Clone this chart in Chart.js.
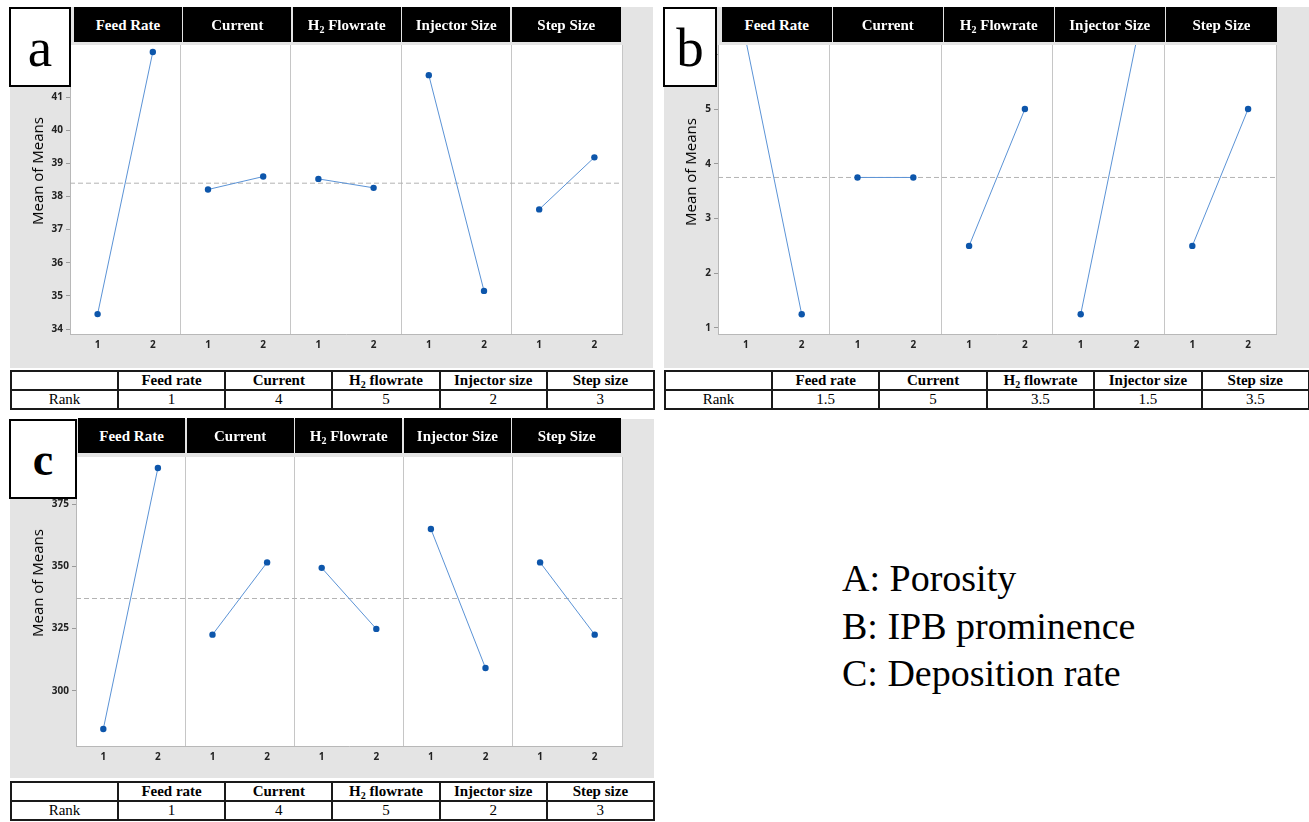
<!DOCTYPE html>
<html><head><meta charset="utf-8">
<script src="https://cdn.jsdelivr.net/npm/chart.js@4.4.1/dist/chart.umd.min.js"></script>
<style>
html,body{margin:0;padding:0;background:#fff;}
#root{position:relative;width:1309px;height:822px;overflow:hidden;background:#fff;}
.panel{position:absolute;background:#e4e4e4;}
.panel canvas{position:absolute;left:0;top:0;}
.hdr{position:absolute;background:#000;color:#fff;font:bold 15px 'Liberation Serif','Times New Roman',serif;display:flex;align-items:center;justify-content:center;white-space:nowrap;padding-top:2px;box-sizing:border-box;}
.hdr sub{font-size:10px;vertical-align:-3px;line-height:0;}
.ytitle{position:absolute;font:normal 15px 'Open Sans',sans-serif;color:#000;transform:translate(-50%,-50%) rotate(-90deg);white-space:nowrap;}
.lbl{position:absolute;box-sizing:border-box;border:2px solid #000;background:#fff;display:flex;align-items:center;justify-content:center;color:#000;}
table.rank{position:absolute;border-collapse:collapse;font:15px 'Liberation Serif','Times New Roman',serif;table-layout:fixed;color:#000;background:#fff;}
table.rank td{border:2px solid #1a1a1a;text-align:center;padding:0;height:17px;line-height:17px;overflow:hidden;white-space:nowrap;}
table.rank tr.head td{font-weight:bold;}
table.rank sub{font-size:10px;vertical-align:-3px;line-height:0;}
.legend{position:absolute;left:842px;top:555px;font:38px 'Liberation Serif','Times New Roman',serif;line-height:47.5px;color:#000;white-space:nowrap;}
</style>
</head>
<body>
<div id="root"></div>
<script>
// ---------------- data ----------------
const factors = ['Feed Rate', 'Current', 'H2 Flowrate', 'Injector Size', 'Step Size'];
const levelLabels = ['1', '2'];
const rankFactors = ['Feed rate', 'Current', 'H2 flowrate', 'Injector size', 'Step size'];

// (a) Porosity
const porosityLevel1 = [34.45, 38.21, 38.53, 41.66, 37.61];
const porosityLevel2 = [42.36, 38.60, 38.26, 35.15, 39.18];
const porosityMean = 38.40;
const porosityTicks = [34, 35, 36, 37, 38, 39, 40, 41, 42];
const porosityRank = ['1', '4', '5', '2', '3'];

// (b) IPB prominence
const ipbLevel1 = [6.25, 3.75, 2.50, 1.25, 2.50];
const ipbLevel2 = [1.25, 3.75, 5.00, 6.25, 5.00];
const ipbMean = 3.75;
const ipbTicks = [1, 2, 3, 4, 5, 6];
const ipbRank = ['1.5', '5', '3.5', '1.5', '3.5'];

// (c) Deposition rate
const depLevel1 = [284.7, 322.6, 349.4, 365.0, 351.6];
const depLevel2 = [389.5, 351.6, 324.9, 309.2, 322.6];
const depMean = 337.1;
const depTicks = [300, 325, 350, 375];
const depRank = ['1', '4', '5', '2', '3'];

const legendLines = ['A: Porosity', 'B: IPB prominence', 'C: Deposition rate'];

// ---------------- layout / style ----------------
const LINE = '#5b93d6', PT = '#0d56ab';
const panels = [
  {tag: 'a', l1: porosityLevel1, l2: porosityLevel2, mean: porosityMean, ticks: porosityTicks, rank: porosityRank,
   yMin: 33.85, yMax: 42.57,
   g: {L: 10, T: 7, R: 653, B: 368, cL: 70, cR: 622, cT: 45, cB: 334, hL: 74, hR: 621, hT: 7, hH: 35,
       tX: 36.5, tY: 171, box: [9, 7, 71, 87], boxFont: 'normal 55px', tab: [10, 370, 653]}},
  {tag: 'b', l1: ipbLevel1, l2: ipbLevel2, mean: ipbMean, ticks: ipbTicks, rank: ipbRank,
   yMin: 0.89, yMax: 6.17,
   g: {L: 664, T: 7, R: 1309, B: 368, cL: 718, cR: 1276, cT: 45, cB: 334, hL: 722, hR: 1277, hT: 7, hH: 35,
       tX: 690, tY: 172, box: [663, 7, 717, 87], boxFont: 'normal 55px', tab: [664, 370, 1308]}},
  {tag: 'c', l1: depLevel1, l2: depLevel2, mean: depMean, ticks: depTicks, rank: depRank,
   yMin: 277.9, yMax: 393.9,
   g: {L: 10, T: 419, R: 654, B: 778, cL: 76, cR: 622, cT: 457, cB: 746, hL: 78, hR: 621, hT: 418, hH: 35,
       tX: 36.5, tY: 583, box: [9, 419, 77, 499], boxFont: 'bold 46px', tab: [10, 781, 653]}}
];

Chart.defaults.font.family = "'Open Sans', 'DejaVu Sans', sans-serif";
const root = document.getElementById('root');
const sub2 = s => s.replace(/H2/, 'H<sub>2</sub>');

const xTickValues = [];
for (let i = 0; i < 5; i++) xTickValues.push(2 * i, 2 * i + 0.5, 2 * i + 1.5);
xTickValues.push(10);

const plotBg = {
  id: 'plotBg',
  beforeDraw(chart) {
    const a = chart.chartArea, ctx = chart.ctx;
    ctx.save(); ctx.fillStyle = '#fff';
    ctx.fillRect(a.left, a.top, a.right - a.left, a.bottom - a.top);
    ctx.restore();
  }
};

function build(p) {
  const g = p.g;
  const panel = document.createElement('div');
  panel.className = 'panel';
  Object.assign(panel.style, {left: g.L + 'px', top: g.T + 'px', width: (g.R - g.L) + 'px', height: (g.B - g.T) + 'px'});
  root.appendChild(panel);
  const cv = document.createElement('canvas');
  cv.width = g.R - g.L; cv.height = g.B - g.T;
  cv.style.width = cv.width + 'px'; cv.style.height = cv.height + 'px';
  panel.appendChild(cv);

  const datasets = factors.map((f, i) => ({
    label: f,
    data: [{x: 2 * i + 0.5, y: p.l1[i]}, {x: 2 * i + 1.5, y: p.l2[i]}],
    showLine: true, borderColor: LINE, borderWidth: 1,
    pointRadius: 3.2, pointBackgroundColor: PT, pointBorderColor: PT, pointBorderWidth: 0,
    clip: 0
  }));
  datasets.push({
    label: 'Mean', data: [{x: 0, y: p.mean}, {x: 10, y: p.mean}],
    showLine: true, borderColor: '#b3b3b3', borderWidth: 1, borderDash: [5, 3], pointRadius: 0, clip: 0
  });

  new Chart(cv, {
    type: 'scatter',
    data: {datasets},
    plugins: [plotBg],
    options: {
      responsive: false, animation: false, devicePixelRatio: 1,
      layout: {padding: {top: g.cT - g.T, right: g.R - g.cR, left: 0, bottom: 0}},
      plugins: {legend: {display: false}, tooltip: {enabled: false}},
      events: [],
      scales: {
        x: {
          type: 'linear', min: 0, max: 10,
          afterBuildTicks: s => { s.ticks = xTickValues.map(v => ({value: v})); },
          afterFit: s => { s.height = g.B - g.cB; },
          ticks: {
            autoSkip: false, maxRotation: 0, padding: 5, color: '#222',
            font: {size: 10, weight: 'bold'},
            callback: v => Number.isInteger(v) ? '' : levelLabels[Math.round(v - 0.5) % 2]
          },
          grid: {
            drawTicks: false, lineWidth: 1,
            color: ctx => (ctx.tick && Number.isInteger(ctx.tick.value)) ? '#c6c6c6' : 'rgba(0,0,0,0)'
          },
          border: {color: '#b8b8b8'}
        },
        y: {
          type: 'linear', min: p.yMin, max: p.yMax,
          afterBuildTicks: s => { s.ticks = p.ticks.map(v => ({value: v})); },
          afterFit: s => { s.width = g.cL - g.L; },
          ticks: {autoSkip: false, padding: 3, color: '#222', font: {size: 10, weight: 'bold'}},
          grid: {drawOnChartArea: false, tickLength: 4, color: '#9a9a9a'},
          border: {color: '#b8b8b8'}
        }
      }
    }
  });

  // facet header strips
  const w = (g.hR - g.hL) / 5;
  factors.forEach((f, i) => {
    const h = document.createElement('div');
    h.className = 'hdr';
    h.innerHTML = '<span>' + sub2(f) + '</span>';
    Object.assign(h.style, {left: (g.hL + i * w) + 'px', top: g.hT + 'px', width: (w - (i < 4 ? 1.5 : 0)) + 'px', height: g.hH + 'px'});
    root.appendChild(h);
  });

  // y-axis title
  const t = document.createElement('div');
  t.className = 'ytitle';
  t.textContent = 'Mean of Means';
  Object.assign(t.style, {left: g.tX + 'px', top: g.tY + 'px'});
  root.appendChild(t);

  // panel letter box
  const b = document.createElement('div');
  b.className = 'lbl';
  b.textContent = p.tag;
  Object.assign(b.style, {left: g.box[0] + 'px', top: g.box[1] + 'px', width: (g.box[2] - g.box[0]) + 'px', height: (g.box[3] - g.box[1]) + 'px', font: g.boxFont + " 'Liberation Serif','Times New Roman',serif"});
  root.appendChild(b);

  // rank table
  const tab = document.createElement('table');
  tab.className = 'rank';
  const tw = g.tab[2] - g.tab[0];
  Object.assign(tab.style, {left: g.tab[0] + 'px', top: g.tab[1] + 'px', width: tw + 'px'});
  const cg = document.createElement('colgroup');
  const c0 = 107, cw = (tw - c0) / 5;
  [c0, cw, cw, cw, cw, cw].forEach(x => { const c = document.createElement('col'); c.style.width = x + 'px'; cg.appendChild(c); });
  tab.appendChild(cg);
  const tb = document.createElement('tbody');
  const r1 = document.createElement('tr');
  r1.className = 'head';
  r1.innerHTML = '<td></td>' + rankFactors.map(f => '<td>' + sub2(f) + '</td>').join('');
  const r2 = document.createElement('tr');
  r2.innerHTML = '<td>Rank</td>' + p.rank.map(r => '<td>' + r + '</td>').join('');
  tb.appendChild(r1); tb.appendChild(r2);
  tab.appendChild(tb);
  root.appendChild(tab);
}

panels.forEach(build);

const lg = document.createElement('div');
lg.className = 'legend';
lg.innerHTML = legendLines.join('<br>');
root.appendChild(lg);
</script>
</body></html>
